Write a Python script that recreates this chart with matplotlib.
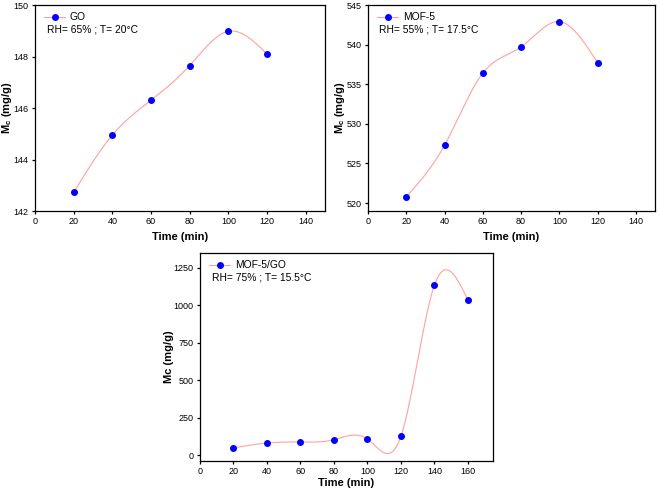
import numpy as np
import matplotlib.pyplot as plt

plt.rcParams['font.family'] = ['Liberation Sans', 'DejaVu Sans']

time_go = [20, 40, 60, 80, 100, 120]
mc_go = [142.72, 144.95, 146.3, 147.65, 148.98, 148.1]

time_mof = [20, 40, 60, 80, 100, 120]
mc_mof = [520.8, 527.3, 536.4, 539.7, 542.9, 537.7]

time_comp = [20, 40, 60, 80, 100, 120, 140, 160]
mc_comp = [48, 80, 87, 102, 107, 125, 1135, 1035]


def natural_spline(x, y, n=300):
    x = np.asarray(x, float)
    y = np.asarray(y, float)
    k = len(x)
    h = np.diff(x)
    A = np.zeros((k, k))
    b = np.zeros(k)
    A[0, 0] = A[-1, -1] = 1
    for i in range(1, k - 1):
        A[i, i - 1] = h[i - 1]
        A[i, i] = 2 * (h[i - 1] + h[i])
        A[i, i + 1] = h[i]
        b[i] = 3 * ((y[i + 1] - y[i]) / h[i] - (y[i] - y[i - 1]) / h[i - 1])
    c = np.linalg.solve(A, b)
    xs = np.linspace(x[0], x[-1], n)
    idx = np.clip(np.searchsorted(x, xs) - 1, 0, k - 2)
    bb = (y[1:] - y[:-1]) / h - h * (2 * c[:-1] + c[1:]) / 3
    d = (c[1:] - c[:-1]) / (3 * h)
    t = xs - x[idx]
    ys = y[idx] + bb[idx] * t + c[idx] * t ** 2 + d[idx] * t ** 3
    return xs, ys


def panel(ax, x, y, name, cond, xlim, ylim, yticks, xticks, ylabel, xpad):
    xs, ys = natural_spline(x, y)
    ax.plot(xs, ys, color='#ffa0a0', lw=0.8)
    ax.plot(x, y, 'o', color='#0000ff', ms=4, ls='none')
    ax.plot([], [], color='#ffa0a0', lw=0.8, marker='o', mfc='#0000ff',
            mec='#0000ff', ms=4, label=name)
    ax.set_xlim(*xlim)
    ax.set_ylim(*ylim)
    ax.set_xticks(xticks)
    ax.set_yticks(yticks)
    ax.tick_params(labelsize=6.5, length=2.5, width=0.9, pad=2, direction='out')
    for s in ax.spines.values():
        s.set_linewidth(0.9)
    ax.set_xlabel('Time (min)', fontsize=8, fontweight='bold', labelpad=xpad)
    ax.set_ylabel(ylabel, fontsize=8, fontweight='bold', labelpad=0)
    ax.legend(loc='upper left', bbox_to_anchor=(0.025, 0.975), frameon=False,
              fontsize=7.4, handlelength=2.0, borderaxespad=0, borderpad=0.2,
              handletextpad=0.5)
    ax.text(0.04, 0.88, cond, transform=ax.transAxes, fontsize=7.4, va='center')


fig = plt.figure(figsize=(6.61, 4.90), dpi=100)
W, H = 661, 490

ax1 = fig.add_axes([35 / W, 1 - 211 / H, 290 / W, 206 / H])
panel(ax1, time_go, mc_go, 'GO', 'RH= 65% ; T= 20°C', (0, 150), (142, 150),
      [142, 144, 146, 148, 150], range(0, 141, 20), 'M$_\\mathregular{c}$ (mg/g)', 4)

ax2 = fig.add_axes([368 / W, 1 - 211 / H, 287 / W, 206 / H])
panel(ax2, time_mof, mc_mof, 'MOF-5', 'RH= 55% ; T= 17.5°C', (0, 150), (519, 545),
      [520, 525, 530, 535, 540, 545], range(0, 141, 20), 'M$_\\mathregular{c}$ (mg/g)', 4)

ax3 = fig.add_axes([200 / W, 1 - 461 / H, 293 / W, 208 / H])
panel(ax3, time_comp, mc_comp, 'MOF-5/GO', 'RH= 75% ; T= 15.5°C', (0, 175), (-40, 1350),
      [0, 250, 500, 750, 1000, 1250], range(0, 161, 20), 'Mc (mg/g)', 1)

fig.savefig('out.png', dpi=100)
